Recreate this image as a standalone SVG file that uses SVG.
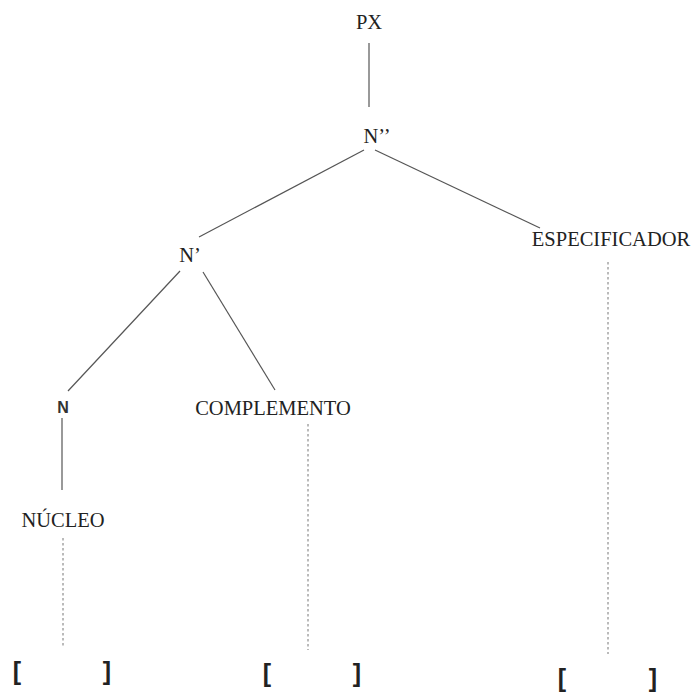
<svg xmlns="http://www.w3.org/2000/svg" width="692" height="694" viewBox="0 0 692 694">
<style>
  .lbl { font-family: "Liberation Serif", "Times New Roman", serif; font-size: 20.5px; fill: #222; text-anchor: middle; }
  .sans { font-family: "Liberation Sans", Arial, sans-serif; font-size: 16px; font-weight: bold; fill: #333; text-anchor: middle; }
  .br { font-family: "Liberation Sans", Arial, sans-serif; font-size: 25px; font-weight: bold; fill: #222; text-anchor: middle; }
  .edge { stroke: #555; stroke-width: 1.2; fill: none; }
  .dash { stroke: #777; stroke-width: 1; stroke-dasharray: 2.5 2.5; fill: none; }
</style>
<rect width="692" height="694" fill="#fff"/>
<g id="connectors">
  <line class="edge" x1="369" y1="43" x2="369" y2="107"/>
  <line class="edge" x1="364" y1="150" x2="199" y2="237"/>
  <line class="edge" x1="375" y1="150" x2="540" y2="228"/>
  <line class="edge" x1="180" y1="271" x2="68" y2="391"/>
  <line class="edge" x1="203" y1="272" x2="275" y2="390"/>
  <line class="edge" x1="62" y1="418" x2="62" y2="490"/>
  <line class="dash" x1="63" y1="538" x2="63" y2="647"/>
  <line class="dash" x1="308" y1="424" x2="308" y2="650"/>
  <line class="dash" x1="608" y1="262" x2="608" y2="654"/>
</g>
<g id="px"><text class="lbl" x="369" y="29">PX</text></g>
<g id="n2"><text class="lbl" x="377" y="143">N’’</text></g>
<g id="n1"><text class="lbl" x="190" y="262">N’</text></g>
<g id="especificador"><text class="lbl" x="611" y="246">ESPECIFICADOR</text></g>
<g id="n0"><text class="sans" x="63" y="413">N</text></g>
<g id="complemento"><text class="lbl" x="273" y="415">COMPLEMENTO</text></g>
<g id="nucleo"><text class="lbl" x="63" y="527">NÚCLEO</text></g>
<g id="slot1"><text class="br" x="17" y="680">[</text><text class="br" x="107" y="680">]</text></g>
<g id="slot2"><text class="br" x="267" y="682">[</text><text class="br" x="357" y="682">]</text></g>
<g id="slot3"><text class="br" x="562" y="687">[</text><text class="br" x="653" y="687">]</text></g>
</svg>
